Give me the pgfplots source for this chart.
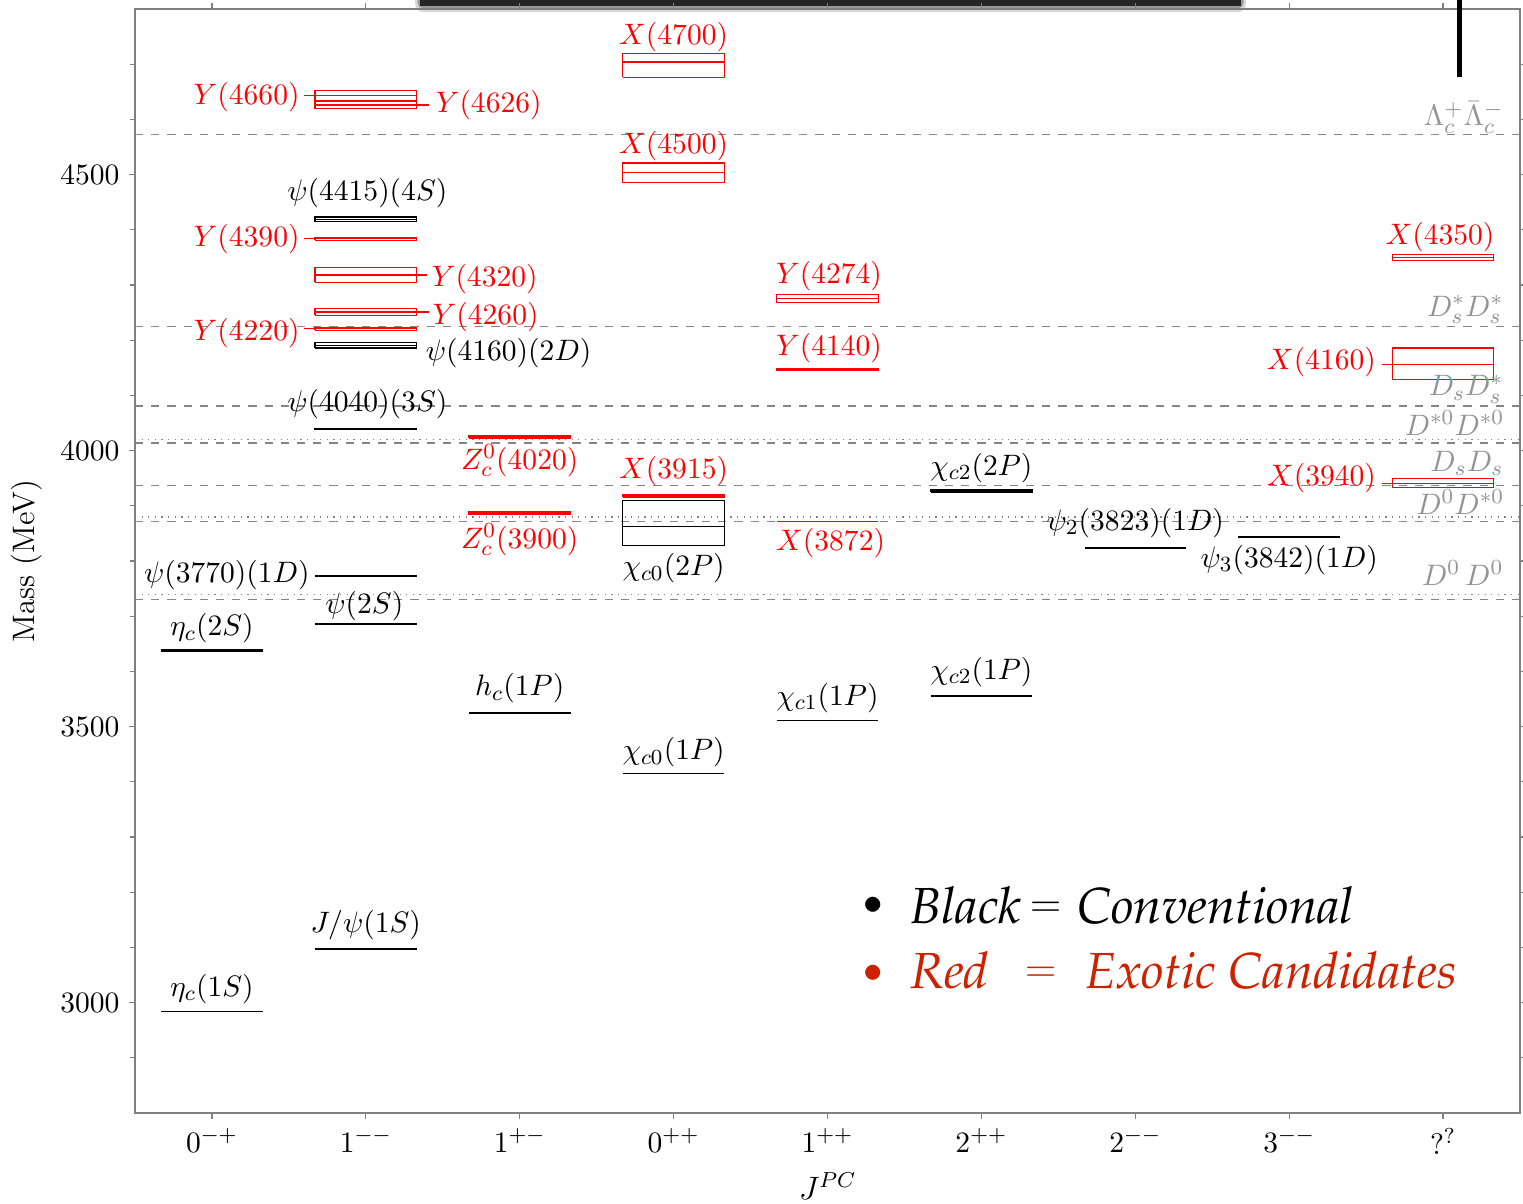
\documentclass[border=0pt]{standalone}
\usepackage[T1,TU]{fontenc}
\usepackage{pgfplots}
\pgfplotsset{compat=1.18}

\definecolor{thr}{gray}{0.52}
\definecolor{thrlbl}{gray}{0.58}
\definecolor{legred}{RGB}{204,34,0}
\newcommand{\pal}{\fontencoding{T1}\fontfamily{ppl}\fontseries{m}\fontshape{it}\selectfont}

\tikzset{
  lev/.style={black, line width=0.6pt},
  box/.style={line width=0.45pt},
  lbl/.style={inner sep=0pt, anchor=base, yshift=-2.75pt},
  lbll/.style={inner sep=0pt, anchor=base east, yshift=-2.75pt},
  lblr/.style={inner sep=0pt, anchor=base west, yshift=-2.75pt},
  tlbl/.style={inner sep=0pt, anchor=base east, text=thrlbl},
  key/.style={inner sep=0pt, anchor=base west, font=\fontsize{18.8}{22}\pal},
  keyeq/.style={inner sep=0pt, anchor=base, yshift=2.4pt, font=\fontsize{16}{18}\selectfont},
}

% single level: \level[style]{xleft}{xright}{mass}
\newcommand{\level}[4][]{\addplot[lev,#1] coordinates {(#2,#4) (#3,#4)};}
% level with an uncertainty band: \band[style]{xleft}{xright}{low}{central}{high}
\newcommand{\band}[6][]{%
  \addplot[box,#1] coordinates {(#2,#4) (#3,#4) (#3,#6) (#2,#6) (#2,#4)};
  \addplot[box,#1] coordinates {(#2,#5) (#3,#5)};}
% threshold line across the whole plot
\newcommand{\thresh}[2][dashed]{\addplot[thr,line width=0.45pt,#1] coordinates {(-0.5,#2) (8.5,#2)};}

\begin{document}
\begin{tikzpicture}
\begin{axis}[
  name=ax,
  set layers,
  scale only axis,
  width=512.96pt, height=408.9pt,
  xmin=-0.5, xmax=8.5, ymin=2800, ymax=4800,
  xtick={0,1,2,3,4,5,6,7,8},
  xticklabels={$0^{-+}$,$1^{--}$,$1^{+-}$,$0^{++}$,$1^{++}$,$2^{++}$,$2^{--}$,$3^{--}$,$?^{?}$},
  ytick={3000,3500,4000,4500},
  minor ytick={2900,3000,...,4700},
  /pgf/number format/1000 sep={},
  tick align=outside,
  major tick length=2.2pt, minor tick length=2pt,
  axis line style={black!50, line width=0.5pt},
  every tick/.style={black!50, line width=0.45pt},
  every minor tick/.style={black!50, line width=0.45pt},
  font=\fontsize{11}{13}\selectfont,
  tick label style={font=\fontsize{11}{13}\selectfont},
  label style={font=\fontsize{11.5}{13}\selectfont},
  xlabel={$J^{PC}$},
  ylabel={Mass (MeV)},
  clip=false,
]

% dark bar cut off at the top edge, behind the axis frame
\begin{pgfonlayer}{axis background}
\fill[black!15,rounded corners=3pt] ([xshift=-1.8pt,yshift=-1.2pt]rel axis cs:0.2058,1) rectangle ([xshift=1.8pt,yshift=9pt]rel axis cs:0.7986,1);
\fill[black!40,rounded corners=2pt] ([xshift=-0.9pt,yshift=0.2pt]rel axis cs:0.2058,1) rectangle ([xshift=0.9pt,yshift=9pt]rel axis cs:0.7986,1);
\fill[black!85] ([yshift=1.2pt]rel axis cs:0.2058,1) rectangle ([yshift=9pt]rel axis cs:0.7986,1);
\end{pgfonlayer}

% open-charm and charm-baryon thresholds (dashed: neutral, dotted: charged)
\thresh{4572.9}
\thresh{4224.4}
\thresh{4080.6}
\thresh{4013.7}
\thresh[dotted]{4020.5}
\thresh{3936.7}
\thresh{3871.7}
\thresh[dotted]{3879.9}
\thresh{3729.7}
\thresh[dotted]{3739.3}

% ---- conventional charmonium (black) ----
% 0-+
\level{-0.33}{0.33}{2984}
\band[black]{-0.33}{0.33}{3636.4}{3637.5}{3638.6}
% 1--
\level{0.67}{1.33}{3097}
\level{0.67}{1.33}{3686}
\level{0.67}{1.33}{3773}
\band[black]{0.67}{1.33}{4038}{4039}{4040}
\band[black]{0.67}{1.33}{4186}{4191}{4196}
\band[black]{0.67}{1.33}{4415}{4419}{4423}
% 1+-
\level{1.67}{2.33}{3525}
% 0++
\level{2.67}{3.33}{3415}
\band[black]{2.67}{3.33}{3828}{3862}{3910}
% 1++
\level{3.67}{4.33}{3511}
% 2++
\level{4.67}{5.33}{3556}
\band[black]{4.67}{5.33}{3925}{3927}{3929.5}
% 2--
\level{5.67}{6.33}{3823}
% 3--
\level{6.67}{7.33}{3843}

% ---- exotic candidates (red) ----
% 1--
\band[red]{0.67}{1.33}{4218}{4220.5}{4223}
\band[red]{0.67}{1.33}{4245}{4251}{4258}
\band[red]{0.67}{1.33}{4305}{4318}{4332}
\band[red]{0.67}{1.33}{4381}{4383.5}{4386}
\band[red]{0.67}{1.33}{4619}{4626}{4633}
\band[red]{0.67}{1.33}{4634}{4643}{4652}
% 1+-
\band[red]{1.67}{2.33}{3884}{3887}{3890}
\band[red]{1.67}{2.33}{4023}{4025.5}{4028}
% 0++
\band[red]{2.67}{3.33}{3916}{3918}{3920}
\band[red]{2.67}{3.33}{4485}{4504}{4521}
\band[red]{2.67}{3.33}{4676}{4704}{4720}
% 1++
\addplot[red, line width=0.45pt] coordinates {(3.67,3871.7) (4.33,3871.7)};
\band[red]{3.67}{4.33}{4145}{4147}{4149}
\band[red]{3.67}{4.33}{4268}{4275}{4283}
% ??
\band[red]{7.67}{8.33}{3933}{3941}{3949}
\band[red]{7.67}{8.33}{4129}{4156}{4186}
\band[red]{7.67}{8.33}{4345}{4350}{4355}

% leader lines from labels to levels
\addplot[red, line width=0.45pt] coordinates {(0.60,4643) (0.67,4643)};
\addplot[red, line width=0.45pt] coordinates {(1.33,4626) (1.41,4626)};
\addplot[red, line width=0.45pt] coordinates {(0.60,4383.5) (0.67,4383.5)};
\addplot[red, line width=0.45pt] coordinates {(1.33,4318) (1.40,4318)};
\addplot[red, line width=0.45pt] coordinates {(1.33,4251) (1.41,4251)};
\addplot[red, line width=0.45pt] coordinates {(0.60,4221) (0.67,4221)};
\addplot[red, line width=0.45pt] coordinates {(7.60,4156) (7.67,4156)};
\addplot[red, line width=0.45pt] coordinates {(7.60,3941) (7.67,3941)};

% ---- labels ----
\node[lbl] at (axis cs:0,3025) {$\eta_c(1S)$};
\node[lbl] at (axis cs:0,3678) {$\eta_c(2S)$};
\node[lbl] at (axis cs:1,3141) {$J/\psi(1S)$};
\node[lbl] at (axis cs:0.99,3719) {$\psi(2S)$};
\node[lbll] at (axis cs:0.638,3775) {$\psi(3770)(1D)$};
\node[lbl] at (axis cs:1.01,4085) {$\psi(4040)(3S)$};
\node[lblr] at (axis cs:1.386,4176) {$\psi(4160)(2D)$};
\node[lbl] at (axis cs:1.01,4466) {$\psi(4415)(4S)$};
\node[lbl] at (axis cs:2,3569) {$h_c(1P)$};
\node[lbl] at (axis cs:3,3453) {$\chi_{c0}(1P)$};
\node[lbl] at (axis cs:3,3787) {$\chi_{c0}(2P)$};
\node[lbl] at (axis cs:4,3552) {$\chi_{c1}(1P)$};
\node[lbl] at (axis cs:5,3599) {$\chi_{c2}(1P)$};
\node[lbl] at (axis cs:5,3969) {$\chi_{c2}(2P)$};
\node[lbl] at (axis cs:6,3869) {$\psi_2(3823)(1D)$};
\node[lbl] at (axis cs:7,3802) {$\psi_3(3842)(1D)$};

\node[lbll,red] at (axis cs:0.573,4213) {$Y(4220)$};
\node[lblr,red] at (axis cs:1.431,4242) {$Y(4260)$};
\node[lblr,red] at (axis cs:1.425,4311) {$Y(4320)$};
\node[lbll,red] at (axis cs:0.573,4384) {$Y(4390)$};
\node[lbll,red] at (axis cs:0.573,4640) {$Y(4660)$};
\node[lblr,red] at (axis cs:1.451,4626) {$Y(4626)$};
\node[lbl,red] at (axis cs:2,3837) {$Z_c^0(3900)$};
\node[lbl,red] at (axis cs:2,3979) {$Z_c^0(4020)$};
\node[lbl,red] at (axis cs:3,3963) {$X(3915)$};
\node[lbl,red] at (axis cs:3,4551) {$X(4500)$};
\node[lbl,red] at (axis cs:3,4749) {$X(4700)$};
\node[lbl,red] at (axis cs:4.02,3832) {$X(3872)$};
\node[lbl,red] at (axis cs:4.01,4186) {$Y(4140)$};
\node[lbl,red] at (axis cs:4.01,4317) {$Y(4274)$};
\node[lbll,red] at (axis cs:7.567,3950) {$X(3940)$};
\node[lbll,red] at (axis cs:7.567,4161) {$X(4160)$};
\node[lbl,red] at (axis cs:7.98,4386) {$X(4350)$};

% threshold names
\node[tlbl] at (axis cs:8.395,4588) {$\Lambda_c^+\bar\Lambda_c^-$};
\node[tlbl] at (axis cs:8.395,4243) {$D_s^*D_s^*$};
\node[tlbl] at (axis cs:8.395,4099) {$D_sD_s^*$};
\node[tlbl] at (axis cs:8.40,4028) {$D^{*0}D^{*0}$};
\node[tlbl] at (axis cs:8.395,3963) {$D_sD_s$};
\node[tlbl] at (axis cs:8.40,3885) {$D^0D^{*0}$};
\node[tlbl] at (axis cs:8.395,3756) {$D^0\,D^0$};

% key
\node[inner sep=0pt, font=\fontsize{14}{16}\selectfont] at (axis cs:4.294,3175) {$\bullet$};
\node[inner sep=0pt, font=\fontsize{14}{16}\selectfont, text=legred] at (axis cs:4.294,3052) {$\bullet$};
\node[key] at (axis cs:4.535,3143) {Black};
\node[keyeq] at (axis cs:5.42,3143) {=};
\node[key] at (axis cs:5.621,3143) {Conventional};
\node[key, text=legred] at (axis cs:4.535,3025) {Red};
\node[keyeq, text=legred] at (axis cs:5.387,3025) {=};
\node[key, text=legred] at (axis cs:5.673,3025) {Exotic Candidates};
\end{axis}

% vertical bar entering from the top edge
\draw[black, line width=1.85pt] ([xshift=490.7pt,yshift=-25.2pt]ax.north west) -- ([xshift=490.7pt,yshift=8pt]ax.north west);

\pgfresetboundingbox
\path ([xshift=-50pt,yshift=-33.33pt]ax.south west) rectangle ([xshift=1.11pt,yshift=3.33pt]ax.north east);
\end{tikzpicture}
\end{document}
